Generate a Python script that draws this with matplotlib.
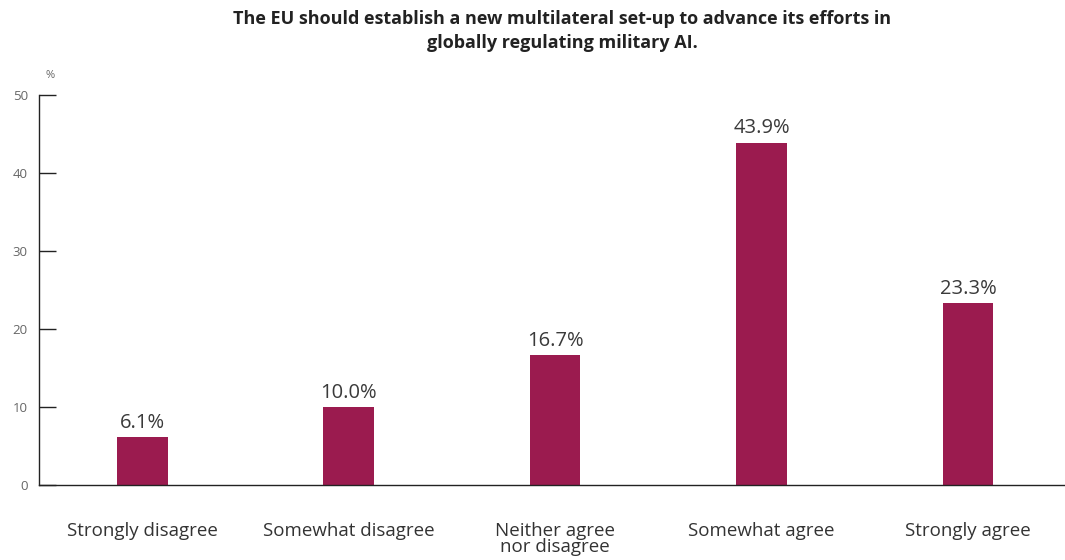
import matplotlib
matplotlib.use("Agg")
import matplotlib.pyplot as plt

categories = ["Strongly disagree", "Somewhat disagree", "Neither agree\nnor disagree",
              "Somewhat agree", "Strongly agree"]
values = [6.1, 10.0, 16.7, 43.9, 23.3]
value_labels = ["6.1%", "10.0%", "16.7%", "43.9%", "23.3%"]
yticks = [0, 10, 20, 30, 40, 50]
title = "The EU should establish a new multilateral set-up to advance its efforts in\nglobally regulating military AI."

plt.rcParams['font.family'] = ['Open Sans', 'DejaVu Sans']

W, H = 1065, 560
fig = plt.figure(figsize=(W / 100, H / 100), dpi=100)
ax = fig.add_axes([39 / W, (H - 485) / H, (1065 - 39) / W, 390 / H])

bar_color = '#9b1b4f'
x = list(range(len(categories)))
bars = ax.bar(x, values, width=0.245, color=bar_color, zorder=2)
for xi, v, lab in zip(x, values, value_labels):
    ax.annotate(lab, (xi, v), xytext=(0, 3), textcoords='offset points',
                ha='center', va='bottom', fontsize=14.5, color='#3a3a3a')

ax.set_xlim(-0.5, 4.47)
ax.set_ylim(0, 50)
ax.set_yticks(yticks)
ax.set_yticklabels([str(t) for t in yticks], fontsize=9.5, color='#666666')
ax.tick_params(axis='y', direction='in', length=12, width=1, color='#222222', pad=8)
ax.set_xticks(x)
ax.set_xticklabels(categories, fontsize=13.5, color='#333333', linespacing=0.85)
ax.tick_params(axis='x', length=0, pad=27)

for s in ['top', 'right']:
    ax.spines[s].set_visible(False)
for s in ['left', 'bottom']:
    ax.spines[s].set_color('#222222')
    ax.spines[s].set_linewidth(1)

fig.text(50 / W, (H - 75) / H, "%", fontsize=8, color='#666666', ha='center', va='center')
fig.text(562 / W, (H - 31) / H, title, fontsize=13, fontweight='bold', ha='center',
         va='center', color='#222222', linespacing=1.45)

fig.savefig("out.png", dpi=100)
